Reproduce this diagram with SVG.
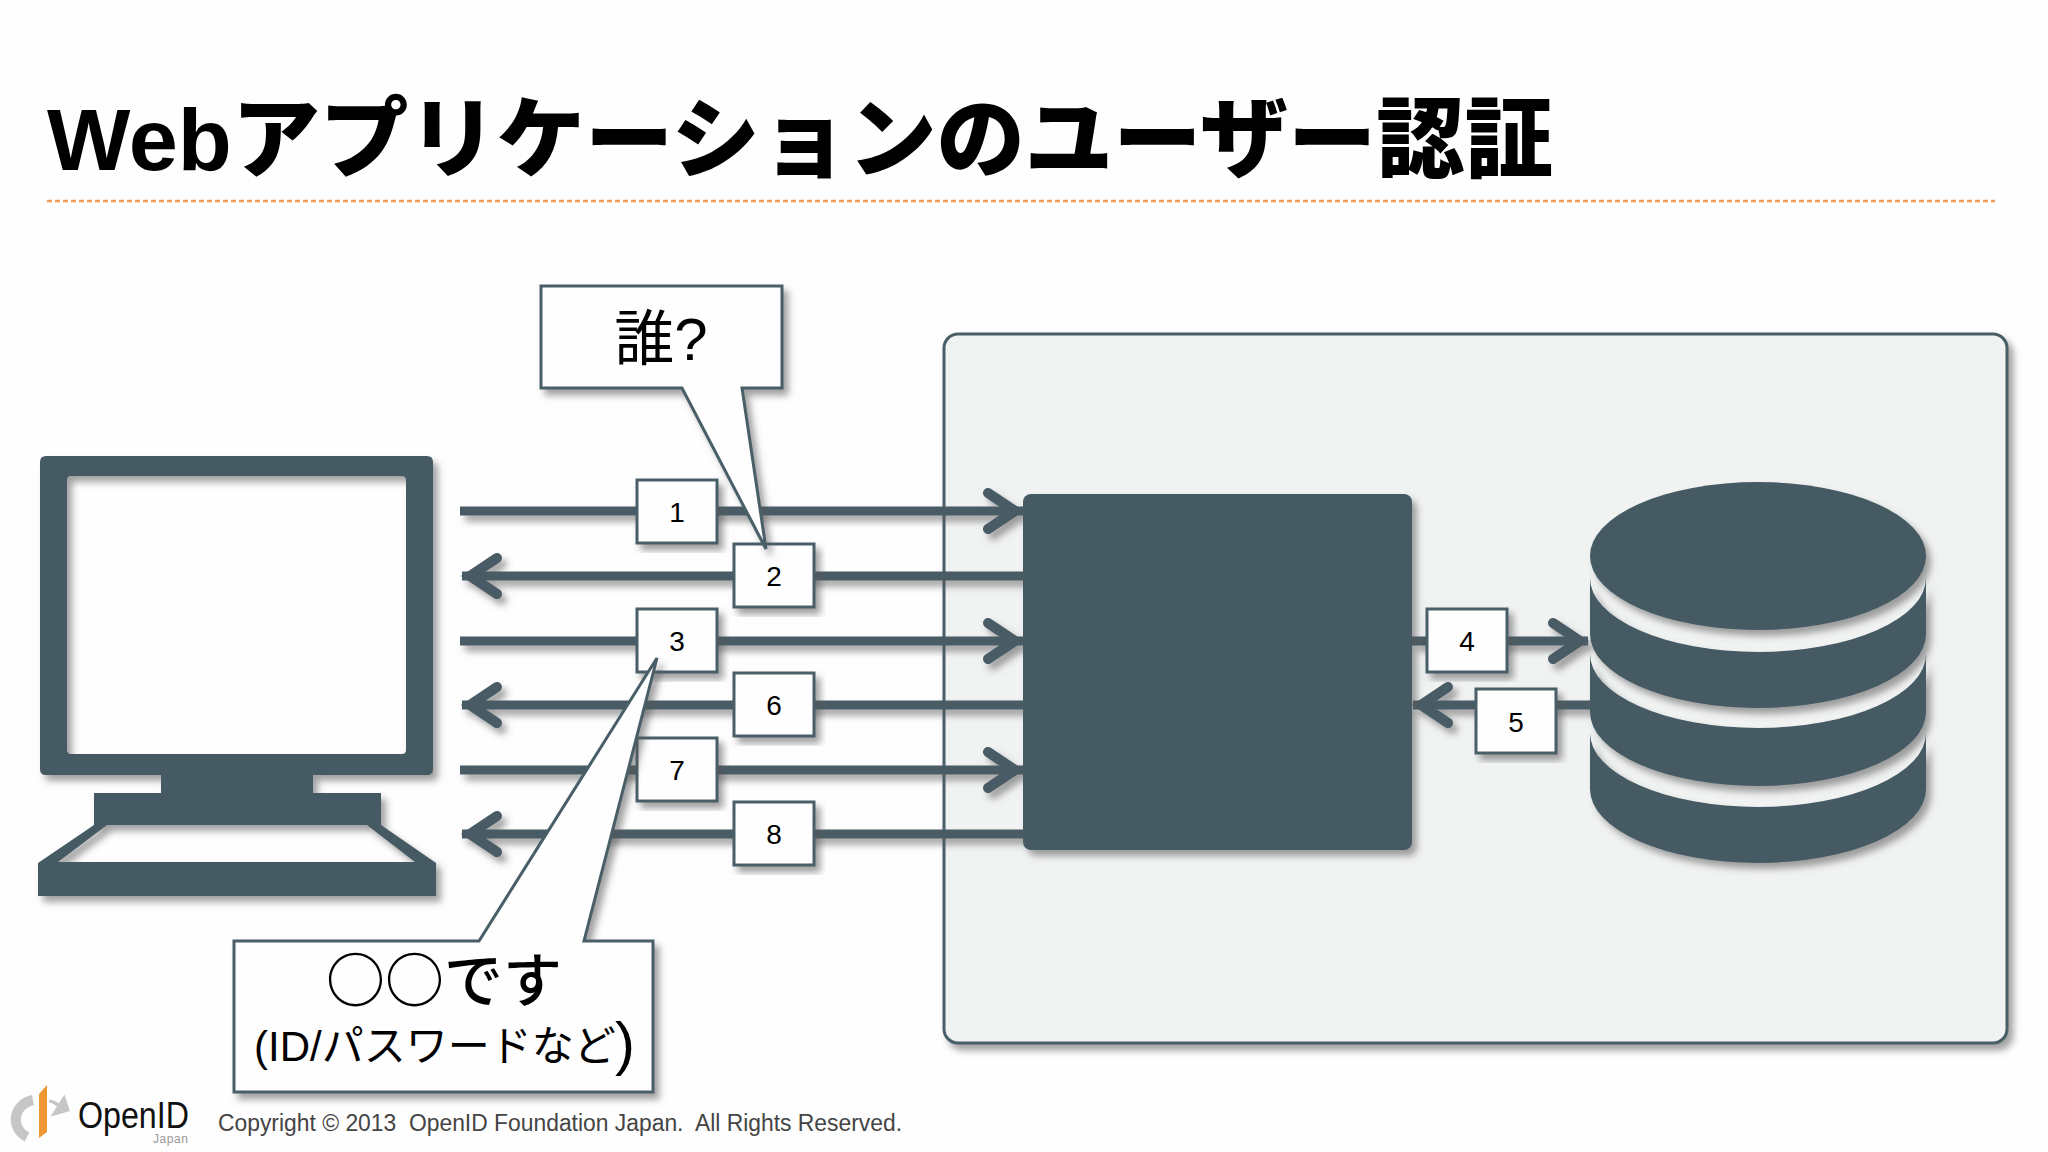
<svg xmlns="http://www.w3.org/2000/svg" width="2048" height="1152" viewBox="0 0 2048 1152">
<style>
.dark{fill:#445a64}
.sh{filter:url(#shadow)}
.conn{fill:none;stroke:#485c66;stroke-width:9}
.box{fill:#fefefe;stroke:#4a5f68;stroke-width:3;stroke-linejoin:miter}
.num{font:28px "Liberation Sans",Arial,sans-serif;text-anchor:middle;fill:#000}
.jp{font-family:"Liberation Sans","Noto Sans CJK JP",sans-serif;fill:#000}
.cjk{font-family:"Noto Sans CJK JP",sans-serif;font-weight:500}
</style>
<defs>
<filter id="shadow" x="-10%" y="-10%" width="125%" height="125%"><feDropShadow dx="5" dy="6" stdDeviation="3.5" flood-color="#555" flood-opacity="0.55"/></filter>
<marker id="head" markerUnits="userSpaceOnUse" markerWidth="60" markerHeight="60" viewBox="0 0 60 60" refX="52" refY="30" orient="auto-start-reverse" overflow="visible"><path d="M17 12 L44 30 L17 48" fill="none" stroke="#485c66" stroke-width="10" stroke-linecap="round" stroke-linejoin="miter"/></marker>
</defs>
<rect width="2048" height="1152" fill="#fefefe"/>
<g id="title">
<text class="jp" x="47" y="170" font-size="88" font-weight="900" textLength="1506" lengthAdjust="spacingAndGlyphs">Webアプリケーションのユーザー認証</text>
<line x1="47" y1="201" x2="1995" y2="201" stroke="#ee9c5e" stroke-width="2.5" stroke-dasharray="5 3"/>
</g>
<g id="server-panel"><rect class="sh" x="944" y="334" width="1063" height="709" rx="14" fill="#f1f2f2" stroke="#4a5f68" stroke-width="3"/></g>
<g id="connectors" class="sh">
<path class="conn" marker-end="url(#head)" d="M460 511H1023"/>
<path class="conn" marker-start="url(#head)" d="M462 576H1024"/>
<path class="conn" marker-end="url(#head)" d="M460 641H1023"/>
<path class="conn" marker-start="url(#head)" d="M462 705H1024"/>
<path class="conn" marker-end="url(#head)" d="M460 770H1023"/>
<path class="conn" marker-start="url(#head)" d="M462 834H1024"/>
<path class="conn" marker-end="url(#head)" d="M1412 641H1588"/>
<path class="conn" marker-start="url(#head)" d="M1413 705H1592"/>
</g>
<g id="client" class="sh">
<path class="dark" fill-rule="evenodd" d="M46 456H427Q433 456 433 462V769Q433 775 427 775H313V793H381V825L436 863V896H38V863L94 825V793H161V775H46Q40 775 40 769V462Q40 456 46 456ZM71 476Q67 476 67 480V750Q67 754 71 754H402Q406 754 406 750V480Q406 476 402 476ZM107 825L58 862H415L367 825Z"/>
</g>
<g id="app-server" class="sh"><rect class="dark" x="1023" y="494" width="389" height="356" rx="8"/></g>
<g id="database" class="sh">
<path class="dark" d="M1590 789V733A168 74 0 0 0 1926 733V789A168 74 0 0 1 1590 789Z"/>
<path class="dark" d="M1590 712V654A168 74 0 0 0 1926 654V712A168 74 0 0 1 1590 712Z"/>
<path class="dark" d="M1590 634V578A168 74 0 0 0 1926 578V634A168 74 0 0 1 1590 634Z"/>
<ellipse class="dark" cx="1758" cy="556" rx="168" ry="74"/>
</g>
<g id="step1"><rect class="box sh" x="637" y="480" width="80" height="63"/><text class="num" x="677" y="522">1</text></g>
<g id="step2"><rect class="box sh" x="734" y="544" width="80" height="63"/><text class="num" x="774" y="586">2</text></g>
<g id="step3"><rect class="box sh" x="637" y="609" width="80" height="63"/><text class="num" x="677" y="651">3</text></g>
<g id="step6"><rect class="box sh" x="734" y="673" width="80" height="63"/><text class="num" x="774" y="715">6</text></g>
<g id="step7"><rect class="box sh" x="637" y="738" width="80" height="63"/><text class="num" x="677" y="780">7</text></g>
<g id="step8"><rect class="box sh" x="734" y="802" width="80" height="63"/><text class="num" x="774" y="844">8</text></g>
<g id="step4"><rect class="box sh" x="1427" y="609" width="80" height="63"/><text class="num" x="1467" y="651">4</text></g>
<g id="step5"><rect class="box sh" x="1476" y="689" width="80" height="64"/><text class="num" x="1516" y="732">5</text></g>
<g id="callout-who">
<path class="box sh" d="M541 286H782V388H742L766 549L682 388H541Z"/>
<text class="jp" x="661" y="360" font-size="60" text-anchor="middle">誰?</text>
</g>
<g id="callout-answer">
<path class="box sh" d="M234 941H479L657 658L584 941H653V1092H234Z"/>
<text class="jp" font-size="42"><tspan class="cjk" x="326" y="1002" font-size="59">○○です</tspan><tspan x="254" y="1061">(ID/パスワードなど</tspan><tspan x="615" y="1064" font-size="60">)</tspan></text>
</g>
<g id="logo">
<path d="M27 1137A22 20 0 0 1 33 1100" fill="none" stroke="#c6c6c6" stroke-width="10"/>
<path d="M49 1101Q58 1102 62 1110M54 1114L68 1110L64 1098Z" fill="#c6c6c6" stroke="#c6c6c6" stroke-width="3"/>
<path d="M39 1094L47 1085V1132L39 1138Z" fill="#ee9632"/>
<text x="78" y="1128" font-family="Liberation Sans,sans-serif" font-size="36" textLength="111" lengthAdjust="spacingAndGlyphs" fill="#111">OpenID</text>
<text x="153" y="1143" font-family="Liberation Sans,sans-serif" font-size="12" textLength="35" fill="#999">Japan</text>
</g>
<text id="copyright" x="218" y="1131" xml:space="preserve" font-family="Liberation Sans,sans-serif" font-size="23" textLength="684" lengthAdjust="spacingAndGlyphs" fill="#444">Copyright © 2013  OpenID Foundation Japan.  All Rights Reserved.</text>
</svg>
